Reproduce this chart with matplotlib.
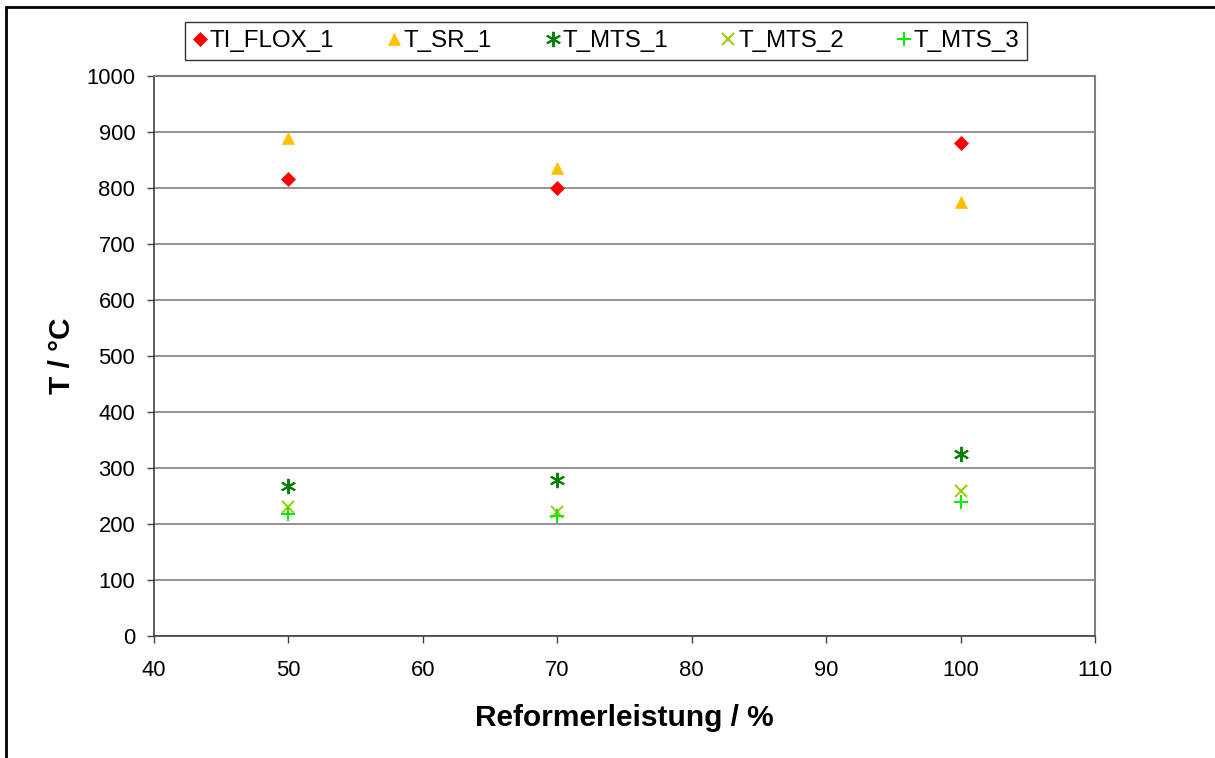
import matplotlib
matplotlib.use("Agg")
import matplotlib.pyplot as plt
from matplotlib.patches import Rectangle

plt.rcParams['font.family'] = ['Liberation Sans', 'DejaVu Sans']

# Reformer load (%) and measured temperatures (°C)
load = [50, 70, 100]
ti_flox_1 = [816, 800, 880]
t_sr_1 = [890, 835, 775]
t_mts_1 = [268, 279, 325]
t_mts_2 = [230, 221, 259]
t_mts_3 = [218, 214, 240]

series = [
    ("TI_FLOX_1", ti_flox_1, "D", "#FF0000", 7),
    ("T_SR_1", t_sr_1, "^", "#FFC000", 8.5),
    ("T_MTS_1", t_mts_1, (6, 2, 0), "#008000", 11),
    ("T_MTS_2", t_mts_2, "x", "#99CC00", 9),
    ("T_MTS_3", t_mts_3, "+", "#00EE00", 10),
]

fig = plt.figure(figsize=(12.15, 7.58), dpi=100)
ax = fig.add_axes([154 / 1215, 1 - 636 / 758, (1095 - 154) / 1215, (636 - 76) / 758])

for name, vals, mk, col, ms in series:
    filled = mk in ("D", "^")
    ax.plot(load, vals, linestyle="none", marker=mk, markersize=ms,
            color=col, markeredgecolor=col, markeredgewidth=1.4 if not filled else 0.5,
            label=name, zorder=3)

ax.set_xlim(40, 110)
ax.set_ylim(0, 1000)
ax.set_xticks(range(40, 111, 10))
ax.set_yticks(range(0, 1001, 100))
ax.grid(axis="y", color="#808080", linewidth=1.2, zorder=0)
ax.set_axisbelow(True)

for side in ("top", "right"):
    ax.spines[side].set_color("#808080")
    ax.spines[side].set_linewidth(1.5)
for side in ("left", "bottom"):
    ax.spines[side].set_color("#404040")
    ax.spines[side].set_linewidth(1.2)

ax.tick_params(axis="both", direction="out", length=5, width=1.0, color="#404040",
               labelsize=15.8, labelcolor="black")
ax.tick_params(axis="x", pad=12.5)
ax.tick_params(axis="y", pad=8.5)

ax.set_xlabel("Reformerleistung / %", fontsize=21.5, fontweight="bold", labelpad=16)
ax.set_ylabel("T / °C", fontsize=21.5, fontweight="bold", labelpad=7.5)

leg = ax.legend(loc="center", bbox_to_anchor=(606 / 1215, 1 - 41 / 758),
                bbox_transform=fig.transFigure, ncol=5, frameon=True, fancybox=False,
                fontsize=17.4, handlelength=0.6, handletextpad=0.1, columnspacing=2.2,
                borderpad=0.33, edgecolor="black", numpoints=1)
leg.get_frame().set_linewidth(1.0)

# Outer frame around the figure
fig.patches.append(Rectangle((6 / 1215, -0.1), 1.2, 1.1 - 7 / 758,
                             transform=fig.transFigure, fill=False,
                             edgecolor="black", linewidth=2.0))

fig.savefig("out.png", dpi=100)
